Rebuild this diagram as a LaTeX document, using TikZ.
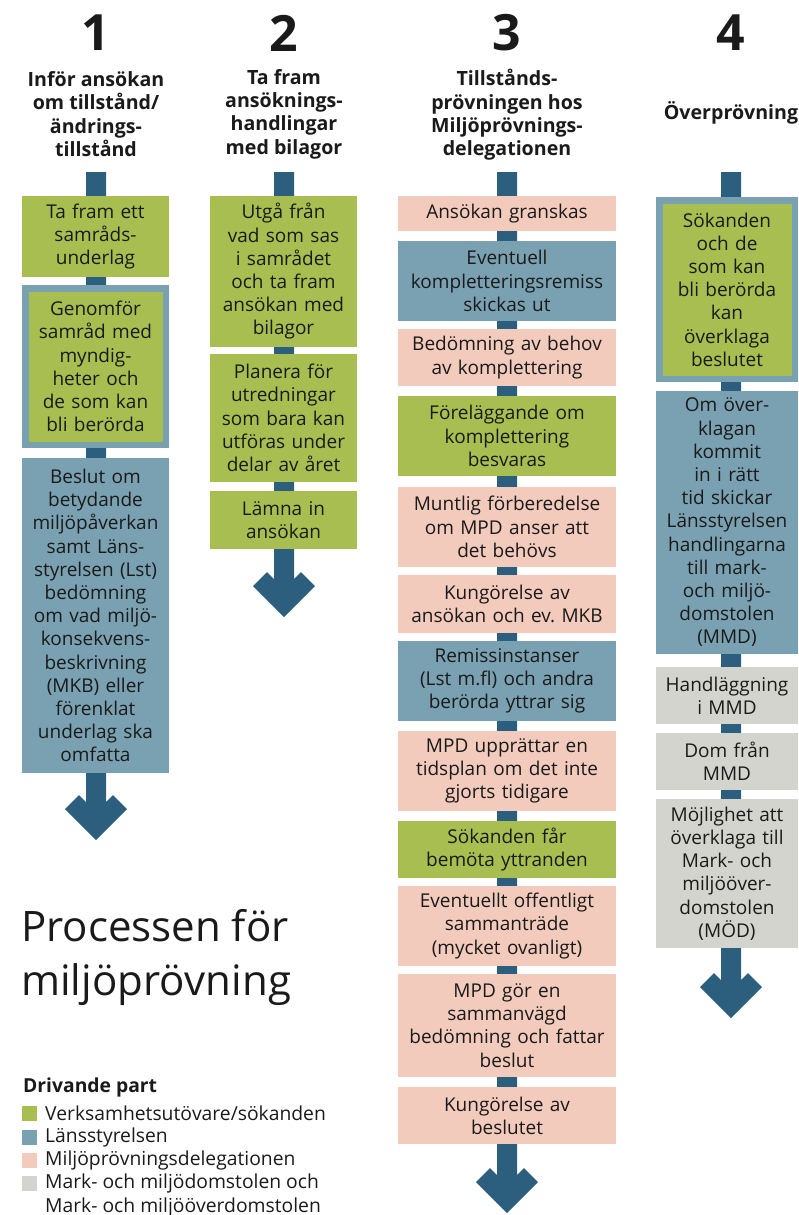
\documentclass[tikz,border=0pt]{standalone}
\usepackage{fontspec}
\setmainfont{Open Sans}
\usetikzlibrary{calc}
\frenchspacing
\definecolor{cgreen}{HTML}{A9BE50}
\definecolor{cblue}{HTML}{7AA1B1}
\definecolor{cpink}{HTML}{F3CBBD}
\definecolor{cgrey}{HTML}{D4D4CF}
\definecolor{cspine}{HTML}{2C5F7E}
\definecolor{ctext}{HTML}{1A1A1A}
\newcommand\procbox[7]{%
 \pgfmathsetmacro\pbW{#4-#2}\pgfmathsetmacro\pbH{#5-#3}%
 \pgfmathsetmacro\pbX{(#2+#4)/2}\pgfmathsetmacro\pbY{(#3+#5)/2}%
 \node[box,#6,minimum width=\pbW pt,minimum height=\pbH pt,text width=\pbW pt] (#1) at (\pbX,\pbY) {#7};}
\newcommand\spinearrow[2]{%
 \fill[cspine] ($(#1)+(-10,0)$) -- ($(#1)+(10,0)$) -- ($(#2)+(10,7)$) -- ($(#2)+(17,0)$) -- ($(#2)+(31,14)$) -- ($(#2)+(0,45)$) -- ($(#2)+(-31,14)$) -- ($(#2)+(-17,0)$) -- ($(#2)+(-10,7)$) -- cycle;}
\begin{document}
\begin{tikzpicture}[x=1pt,y=-1pt,
  box/.style={inner sep=0pt,outer sep=0pt,align=center,text=ctext,font=\fontsize{19}{23.2}\selectfont},
  gbox/.style={fill=cgreen},
  bbox/.style={fill=cblue},
  pbox/.style={fill=cpink},
  ybox/.style={fill=cgrey},
  gbbox/.style={fill=cgreen,draw=cblue,line width=6.5pt},
  numtxt/.style={font=\fontsize{50}{60}\selectfont\bfseries,text=ctext,inner sep=0pt},
  headtxt/.style={font=\fontsize{19.6}{23.4}\selectfont\bfseries,text=ctext,align=center,inner sep=0pt},
  legtxt/.style={font=\fontsize{19.3}{23.4}\selectfont,text=ctext,anchor=west,inner sep=0pt},
  legsq/.style={minimum size=15pt,inner sep=0pt}]
\useasboundingbox (0,0) rectangle (798,1215);

% headers
\node[numtxt] (n1) at (96,33) {1};
\node[numtxt] (n2) at (284,33) {2};
\node[numtxt] (n3) at (507,33) {3};
\node[numtxt] (n4) at (731,33) {4};
\node[headtxt] (h1) at (96,114) {Inför ansökan\\om tillstånd/\\ändrings-\\tillstånd};
\node[headtxt] (h2) at (284,114) {Ta fram\\ansöknings-\\handlingar\\med bilagor};
\node[headtxt] (h3) at (507,115) {Tillstånds-\\prövningen hos\\Miljöprövnings-\\delegationen};
\node[headtxt] (h4) at (731,113) {Överprövning};

% spines
\coordinate (t1) at (96,172);  \coordinate (e1) at (96,795);
\coordinate (t2) at (284,172); \coordinate (e2) at (284,572);
\coordinate (t3) at (507,172); \coordinate (e3) at (507,1168);
\coordinate (t4) at (731,172); \coordinate (e4) at (731,973);
\spinearrow{t1}{e1}
\spinearrow{t2}{e2}
\spinearrow{t3}{e3}
\spinearrow{t4}{e4}

% column 1
\procbox{b11}{22}{196}{169}{277}{gbox}{Ta fram ett\\samråds-\\underlag}
\procbox{b12}{25.25}{288.25}{165.75}{444.75}{gbbox}{Genomför\\samråd med\\myndig-\\heter och\\de som kan\\bli berörda}
\procbox{b13}{22}{458}{169}{773}{bbox}{Beslut om\\betydande\\miljöpåverkan\\samt Läns-\\styrelsen (Lst)\\bedömning\\om vad miljö-\\konsekvens-\\beskrivning\\(MKB) eller\\förenklat\\underlag ska\\omfatta}

% column 2
\procbox{b21}{210}{196}{357}{347}{gbox}{Utgå från\\vad som sas\\i samrådet\\och ta fram\\ansökan med\\bilagor}
\procbox{b22}{210}{354}{357}{482}{gbox}{Planera för\\utredningar\\som bara kan\\utföras under\\delar av året}
\procbox{b23}{210}{491}{357}{549}{gbox}{Lämna in\\ansökan}

% column 3
\procbox{b31}{398}{196}{616}{231}{pbox}{Ansökan granskas}
\procbox{b32}{398}{241}{616}{321}{bbox}{Eventuell\\kompletteringsremiss\\skickas ut}
\procbox{b33}{398}{329}{616}{386}{pbox}{Bedömning av behov\\av komplettering}
\procbox{b34}{398}{396}{616}{476}{gbox}{Föreläggande om\\komplettering\\besvaras}
\procbox{b35}{398}{487}{616}{567}{pbox}{Muntlig förberedelse\\om MPD anser att\\det behövs}
\procbox{b36}{398}{575}{616}{633}{pbox}{Kungörelse av\\ansökan och ev. MKB}
\procbox{b37}{398}{641}{616}{721}{bbox}{Remissinstanser\\(Lst m.fl) och andra\\berörda yttrar sig}
\procbox{b38}{398}{731}{616}{811}{pbox}{MPD upprättar en\\tidsplan om det inte\\gjorts tidigare}
\procbox{b39}{398}{821}{616}{878}{gbox}{Sökanden får\\bemöta yttranden}
\procbox{b310}{398}{886}{616}{966}{pbox}{Eventuellt offentligt\\sammanträde\\(mycket ovanligt)}
\procbox{b311}{398}{974}{616}{1077}{pbox}{MPD gör en\\sammanvägd\\bedömning och fattar\\beslut}
\procbox{b312}{398}{1087}{616}{1144}{pbox}{Kungörelse av\\beslutet}

% column 4
\procbox{b41}{659.25}{200.25}{794.75}{378.75}{gbbox}{Sökanden\\och de\\som kan\\bli berörda\\kan\\överklaga\\beslutet}
\procbox{b42}{656}{391}{798}{654}{bbox}{Om över-\\klagan\\kommit\\in i rätt\\tid skickar\\Länsstyrelsen\\handlingarna\\till mark-\\och miljö-\\domstolen\\(MMD)}
\procbox{b43}{656}{667}{798}{724}{ybox}{Handläggning\\i MMD}
\procbox{b44}{656}{733}{798}{790}{ybox}{Dom från\\MMD}
\procbox{b45}{656}{799}{798}{948}{ybox}{Möjlighet att\\överklaga till\\Mark- och\\miljööver-\\domstolen\\(MÖD)}

% title
\node[anchor=west,align=left,inner sep=0pt,text=ctext,font=\fontsize{42}{54}\selectfont] (title) at (21,957) {Processen för\\miljöprövning};

% legend
\node[legtxt,font=\fontsize{19.3}{23.4}\selectfont\bfseries] (lh) at (23,1087) {Drivande part};
\node[legsq,fill=cgreen] (s1) at (29.5,1113) {};
\node[legsq,fill=cblue] (s2) at (29.5,1137) {};
\node[legsq,fill=cpink] (s3) at (29.5,1160) {};
\node[legsq,fill=cgrey] (s4) at (29.5,1183) {};
\node[legtxt] (l1) at (45,1113) {Verksamhetsutövare/sökanden};
\node[legtxt] (l2) at (45,1137) {Länsstyrelsen};
\node[legtxt] (l3) at (45,1160) {Miljöprövningsdelegationen};
\node[legtxt] (l4) at (45,1183) {Mark- och miljödomstolen och};
\node[legtxt] (l5) at (45,1207) {Mark- och miljööverdomstolen};
\end{tikzpicture}
\end{document}
